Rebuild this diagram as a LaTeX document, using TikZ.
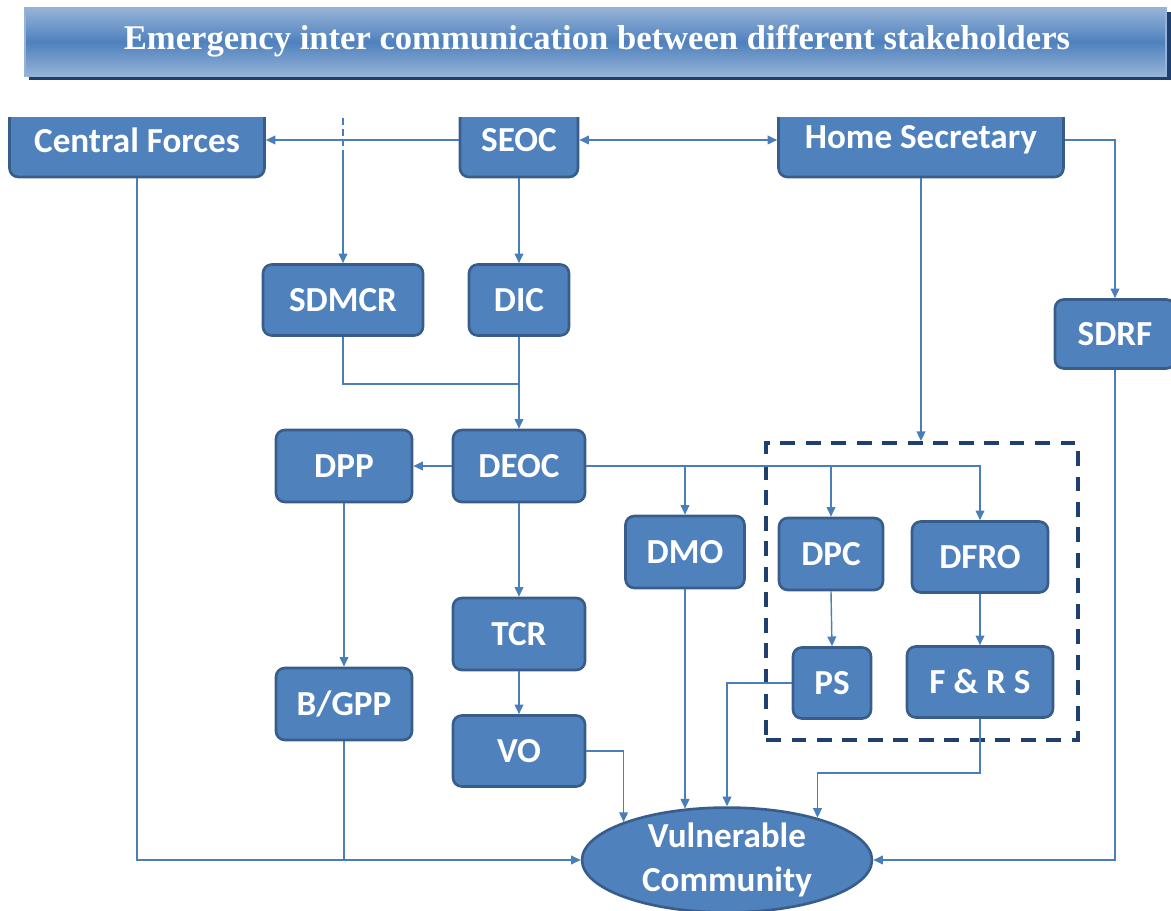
\documentclass[tikz,border=0pt]{standalone}
\usepackage{fontspec}
\setmainfont{Liberation Serif}
\newfontfamily\boxfont{Carlito}
\usetikzlibrary{shapes,shapes.geometric,arrows.meta,calc}
\definecolor{boxfill}{HTML}{4F81BD}
\definecolor{boxline}{HTML}{385D8A}
\definecolor{linkcol}{HTML}{4A7EBB}
\definecolor{framecol}{HTML}{1F3F6E}
\definecolor{bannerlight}{HTML}{95B3D7}
\tikzset{
  x=0.02cm, y=-0.02cm,
  box_n/.style = {align=center, inner sep=0pt, text=white, draw=boxline, fill=boxfill, line width=1.5pt, rounded corners=5pt, font=\boxfont\bfseries\fontsize{20}{25}\selectfont},
  box_e/.style = {box_n, ellipse, rounded corners=0pt},
  grp_f/.style = {draw=framecol, line width=2.2pt, dash pattern=on 8.5pt off 6pt, inner sep=0pt},
  lnk/.style = {draw=linkcol, line width=0.8pt, -{Triangle[length=5.5pt,width=5pt]}},
  lnk_p/.style = {draw=linkcol, line width=0.8pt}
}
\begin{document}
\begin{tikzpicture}
\useasboundingbox (0,0) rectangle (1171,911);
\fill[framecol] (29,12) rectangle (1171,80);
\shade[top color=bannerlight, bottom color=bannerlight, middle color=boxfill, draw=bannerlight, line width=0.8pt] (25,8) rectangle (1166,76);
\node[text=white, font=\bfseries\fontsize{19.7}{22}\selectfont] (title) at (597,41) {Emergency inter communication between different stakeholders};
\begin{scope}
	\clip (0,118) rectangle (1171,200);
	\node[box_n, minimum width=5.1cm, minimum height=1.48cm] (cf) at (137,140) {Central Forces};
	\node[box_n, minimum width=2.36cm, minimum height=1.48cm] (seoc) at (519,140) {SEOC};
	\node[box_n, minimum width=5.7cm, minimum height=1.48cm] (home) at (921,140) {Home Secretary};
\end{scope}
\node[box_n, minimum width=3.2cm, minimum height=1.42cm] (sdmcr) at (343,300) {SDMCR};
\node[box_n, minimum width=2cm, minimum height=1.42cm] (dic) at (519,300) {DIC};
\node[box_n, minimum width=2.4cm, minimum height=1.38cm] (sdrf) at (1115,334) {SDRF};
\node[box_n, minimum width=2.64cm, minimum height=1.44cm] (deoc) at (519,466) {DEOC};
\node[box_n, minimum width=2.72cm, minimum height=1.44cm] (dpp) at (344,466) {DPP};
\node[grp_f, minimum width=6.24cm, minimum height=5.94cm] (grp) at (922,591.5) {};
\node[box_n, minimum width=2.38cm, minimum height=1.44cm] (dmo) at (685,552) {DMO};
\node[box_n, minimum width=2.08cm, minimum height=1.44cm] (dpc) at (831,554) {DPC};
\node[box_n, minimum width=2.72cm, minimum height=1.42cm] (dfro) at (980,557) {DFRO};
\node[box_n, minimum width=1.56cm, minimum height=1.42cm] (ps) at (832,683) {PS};
\node[box_n, minimum width=2.92cm, minimum height=1.42cm] (frs) at (980,682) {F \& R S};
\node[box_n, minimum width=2.64cm, minimum height=1.44cm] (tcr) at (519,634) {TCR};
\node[box_n, minimum width=2.64cm, minimum height=1.42cm] (vo) at (519,751) {VO};
\node[box_n, minimum width=2.72cm, minimum height=1.44cm] (bgpp) at (344,704) {B/GPP};
\node[box_e, minimum width=5.8cm, minimum height=2.04cm] (vc) at (727,860) {Vulnerable\\Community};
\coordinate (stub) at (343,118);
\draw[lnk] (seoc.west) -- (cf.east);
\draw[lnk, {Triangle[length=5.5pt,width=5pt]}-{Triangle[length=5.5pt,width=5pt]}] (seoc.east) -- (home.west);
\draw[lnk_p, dash pattern=on 4pt off 2pt] (stub) -- ++(0,32) coordinate (stubend);
\draw[lnk] (stubend) -- (sdmcr.north);
\draw[lnk] (seoc.south) -- (dic.north);
\draw[lnk] (home.east) -| (sdrf.north);
\draw[lnk] (home.south) -- (home.south |- grp.north);
\draw[lnk_p] (sdmcr.south) -- ++(0,47) -| (dic.south);
\draw[lnk] (dic.south) -- (deoc.north);
\draw[lnk] (deoc.west) -- (dpp.east);
\draw[lnk] (deoc.east) -| (dfro.north);
\draw[lnk] (deoc.east -| dmo.north) -- (dmo.north);
\draw[lnk] (deoc.east -| dpc.north) -- (dpc.north);
\draw[lnk] (dpc.south) -- (ps.north);
\draw[lnk] (dfro.south) -- (frs.north);
\draw[lnk] (deoc.south) -- (tcr.north);
\draw[lnk] (tcr.south) -- (vo.north);
\draw[lnk] (dpp.south) -- (bgpp.north);
\draw[lnk] (cf.south) |- (vc.west);
\draw[lnk_p] (bgpp.south) -- (bgpp.south |- vc.west);
\draw[lnk] (vo.east) -| (vc.north west);
\draw[lnk] (dmo.south) -- (dmo.south |- vc.130.6);
\draw[lnk] (ps.west) -| (vc.north);
\draw[lnk] (frs.south) -- ++(0,54) -| (vc.25.5);
\draw[lnk] (sdrf.south) |- (vc.east);
\end{tikzpicture}
\end{document}
